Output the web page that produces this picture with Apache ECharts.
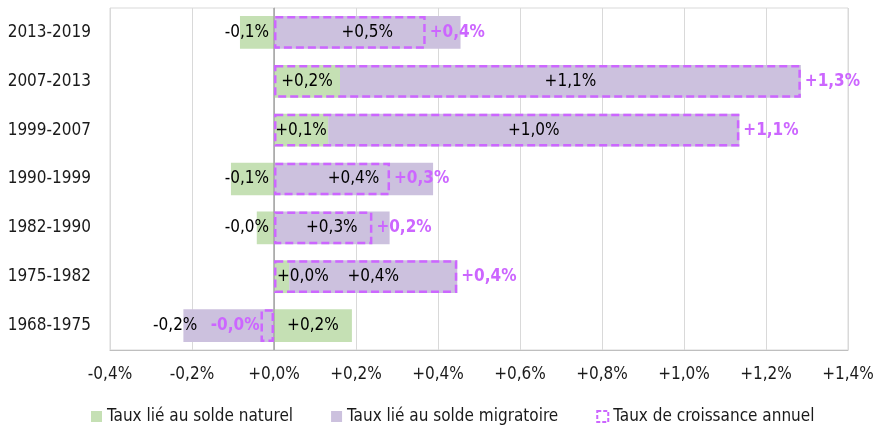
<!DOCTYPE html>
<html>
  <head>
    <meta http-equiv="Content-Type" content="text/html; charset=utf-8" />
    <title>index.html</title>
    <style type="text/css">
    	html,body{margin:0;padding:0;background:#fff;}
    	#chart1{width:885px;height:425px;}
    </style>
    <script type="text/javascript" src="https://cdn.jsdelivr.net/npm/echarts@6/dist/echarts.min.js"></script>
  </head>
  <body>
    <div id="chart1"></div>
  </body>
  <script type="text/javascript">
  	// périodes, de bas en haut
  	var periodes = ['1968-1975', '1975-1982', '1982-1990', '1990-1999', '1999-2007', '2007-2013', '2013-2019'];
  	var soldeNaturel = [0.19, 0.037, -0.042, -0.105, 0.132, 0.161, -0.083];
  	var soldeMigratoire = [-0.221, 0.41, 0.282, 0.388, 1.003, 1.124, 0.455];
  	var croissance = [-0.033, 0.447, 0.24, 0.283, 1.135, 1.285, 0.37];
  	var ticks = ['-0,4%', '-0,2%', '+0,0%', '+0,2%', '+0,4%', '+0,6%', '+0,8%', '+1,0%', '+1,2%', '+1,4%'];

  	var police = '"DejaVu Sans Condensed", "Liberation Sans Narrow", sans-serif';
  	var taille = 17;
  	var violet = '#cc66ff';

  	function fmt(v){
  		return (v < 0 ? '-' : '+') + Math.abs(v).toFixed(1).replace('.', ',') + '%';
  	}

  	// position des étiquettes selon le signe / la taille de la barre
  	function lblNaturel(v){
  		if(v < 0) return {position:'insideRight', distance:5};
  		if(v < 0.05) return {position:'insideLeft', distance:3};
  		return {position:'inside'};
  	}
  	function lblMigratoire(v){
  		if(v < 0) return {position:'left', distance:-14};
  		return {position:'inside'};
  	}
  	function lblCroissance(v){
  		if(v < 0) return {position:'left', distance:1};
  		return {position:'right', distance:4};
  	}

  	function build(vals, fn){
  		return vals.map(function(v){
  			return {value:v, label:fn(v)};
  		});
  	}

	var myChart = echarts.init(document.getElementById('chart1'));
	myChart.setOption({
		animation: false,
		textStyle: {fontFamily: police},
		grid: {left:110, right:37, top:8, bottom:75, show:true, borderColor:'#d9d9d9', borderWidth:1},
		legend: {
			top: 403,
			left: 86,
			itemWidth: 11,
			itemHeight: 11,
			itemGap: 38,
			textStyle: {fontSize:taille, color:'#1a1a1a', fontFamily: police},
			data: [
				{name:'Taux lié au solde naturel', icon:'rect'},
				{name:'Taux lié au solde migratoire', icon:'rect'},
				{name:'Taux de croissance annuel', icon:'rect',
					itemStyle:{color:'#fff', borderColor:violet, borderWidth:2, borderType:[4,2]}}
			]
		},
		xAxis: {
			type: 'value',
			min: -0.4,
			max: 1.4,
			interval: 0.2,
			axisLine: {show:true, lineStyle:{color:'#bfbfbf'}},
			axisTick: {show:false},
			splitLine: {lineStyle:{color:'#d9d9d9'}},
			axisLabel: {
				fontSize: taille, color:'#1a1a1a', margin: 16,
				formatter: function(v){
					var i = Math.round((v + 0.4) / 0.2);
					return ticks[i];
				}
			}
		},
		yAxis: {
			type: 'category',
			data: periodes,
			axisLine: {show:true, lineStyle:{color:'#bfbfbf'}},
			axisTick: {show:false},
			axisLabel: {fontSize:taille, color:'#1a1a1a', margin:19}
		},
		series: [
			{
				name: 'Taux lié au solde naturel',
				type: 'bar',
				stack: 'taux',
				barCategoryGap: '33%',
				itemStyle: {color:'#c5e0b4'},
				label: {show:true, fontSize:taille, color:'#000', formatter:function(p){return fmt(p.value);}},
				data: build(soldeNaturel, lblNaturel),
				markLine: {
					silent: true,
					symbol: 'none',
					label: {show:false},
					lineStyle: {color:'#a6a6a6', type:'solid', width:1.5},
					data: [{xAxis:0}]
				}
			},
			{
				name: 'Taux lié au solde migratoire',
				type: 'bar',
				stack: 'taux',
				itemStyle: {color:'#ccc1de'},
				label: {show:true, fontSize:taille, color:'#000', formatter:function(p){return fmt(p.value);}},
				data: build(soldeMigratoire, lblMigratoire)
			},
			{
				name: 'Taux de croissance annuel',
				type: 'bar',
				barGap: '-100%',
				z: 5,
				itemStyle: {color:'rgba(0,0,0,0)', borderColor:violet, borderWidth:2.5, borderType:[8,4]},
				label: {show:true, fontSize:taille, fontWeight:'bold', color:violet, formatter:function(p){return fmt(p.value);}},
				data: build(croissance, lblCroissance)
			}
		]
	});
	</script>
</html>
